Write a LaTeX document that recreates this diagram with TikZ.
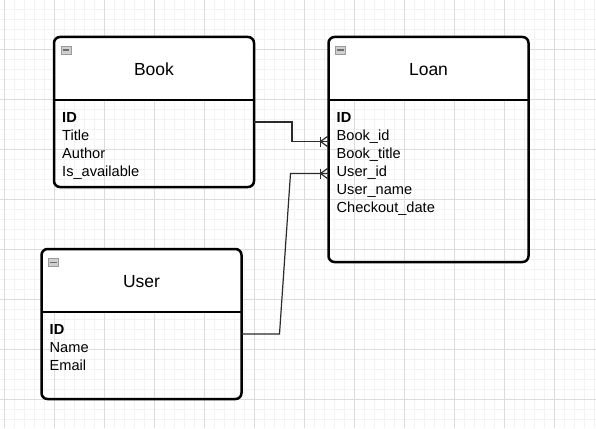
\documentclass[tikz,border=0pt]{standalone}
\usepackage{fontspec}
\setmainfont{Liberation Sans}
\usetikzlibrary{calc}
\definecolor{gridminor}{HTML}{F3F3F3}
\definecolor{gridmajor}{HTML}{DCDCDC}
\definecolor{iconfill}{HTML}{CFCFCF}
\definecolor{iconedge}{HTML}{9A9A9A}
\definecolor{iconbar}{HTML}{6E6E6E}
\definecolor{linkcol}{HTML}{2B2B2B}
\begin{document}
\begin{tikzpicture}[x=1pt,y=-1pt,
  entity/.style={draw=black, line width=2.5pt, rounded corners=6pt, inner sep=0pt, outer sep=0pt,
    minimum width=200pt,
    path picture={\fill[white] (path picture bounding box.north west) rectangle ([yshift=-63pt]path picture bounding box.north east);}},
  divider/.style={draw=black, line width=2.4pt},
  title/.style={font=\fontsize{17.5}{21}\selectfont, inner sep=0pt, anchor=base},
  attr/.style={font=\fontsize{14.6}{18}\selectfont, inner sep=0pt, anchor=base west},
  keyattr/.style={attr, font=\fontsize{14.6}{18}\selectfont\bfseries},
  icon/.style={draw=iconedge, fill=iconfill, line width=0.7pt, minimum width=10pt, minimum height=8pt, inner sep=0pt, outer sep=0pt},
  iconline/.style={draw=iconbar, line width=1.4pt},
  rel/.style={draw=linkcol, line width=1.2pt},
  crow/.style={draw=linkcol, line width=1.2pt}
]
% background and grid
\fill[white] (0,0) rectangle (596,428);
\useasboundingbox (0,0) rectangle (596,428);
\foreach \x in {4,14,...,594} \draw[gridminor, line width=0.8pt] (\x,0) -- (\x,428);
\foreach \y in {9,19,...,419} \draw[gridminor, line width=0.8pt] (0,\y) -- (596,\y);
\foreach \x in {4,54,...,554} \draw[gridmajor, line width=0.8pt] (\x,0) -- (\x,428);
\foreach \y in {49,99,...,399} \draw[gridmajor, line width=0.8pt] (0,\y) -- (596,\y);

% ---------- Book ----------
\node[entity, minimum height=150pt] (book) at (154,112) {};
\draw[divider] ([yshift=-63pt]book.north west) -- ([yshift=-63pt]book.north east);
\node[icon] (bookicon) at ([xshift=12pt,yshift=-13pt]book.north west) {};
\draw[iconline] ([xshift=1.8pt]bookicon.west) -- ([xshift=-1.8pt]bookicon.east);
\node[title] (bookname) at ([yshift=-38pt]book.north) {Book};
\node[keyattr] (bookid) at ([xshift=8pt,yshift=-85.7pt]book.north west) {ID};
\node[attr] (booktitle) at ([yshift=-18pt]bookid.base west) {Title};
\node[attr] (bookauthor) at ([yshift=-18pt]booktitle.base west) {Author};
\node[attr] (bookavail) at ([yshift=-18pt]bookauthor.base west) {Is\_available};

% ---------- Loan ----------
\node[entity, minimum height=225pt] (loan) at (428.5,149.5) {};
\draw[divider] ([yshift=-63pt]loan.north west) -- ([yshift=-63pt]loan.north east);
\node[icon] (loanicon) at ([xshift=12pt,yshift=-13pt]loan.north west) {};
\draw[iconline] ([xshift=1.8pt]loanicon.west) -- ([xshift=-1.8pt]loanicon.east);
\node[title] (loanname) at ([yshift=-38pt]loan.north) {Loan};
\node[keyattr] (loanid) at ([xshift=8pt,yshift=-85.7pt]loan.north west) {ID};
\node[attr] (loanbookid) at ([yshift=-18pt]loanid.base west) {Book\_id};
\node[attr] (loanbooktitle) at ([yshift=-18pt]loanbookid.base west) {Book\_title};
\node[attr] (loanuserid) at ([yshift=-18pt]loanbooktitle.base west) {User\_id};
\node[attr] (loanusername) at ([yshift=-18pt]loanuserid.base west) {User\_name};
\node[attr] (loandate) at ([yshift=-18pt]loanusername.base west) {Checkout\_date};

% ---------- User ----------
\node[entity, minimum height=150pt] (user) at (141.5,324) {};
\draw[divider] ([yshift=-63pt]user.north west) -- ([yshift=-63pt]user.north east);
\node[icon] (usericon) at ([xshift=12pt,yshift=-13.5pt]user.north west) {};
\draw[iconline] ([xshift=1.8pt]usericon.west) -- ([xshift=-1.8pt]usericon.east);
\node[title] (username) at ([yshift=-38pt]user.north) {User};
\node[keyattr] (userid) at ([xshift=8pt,yshift=-85.7pt]user.north west) {ID};
\node[attr] (username2) at ([yshift=-18pt]userid.base west) {Name};
\node[attr] (useremail) at ([yshift=-18pt]username2.base west) {Email};

% ---------- Connectors ----------
\coordinate (loanA) at ([yshift=8pt]loan.west);
\coordinate (loanB) at ([yshift=-24pt]loan.west);
\draw[rel] ([yshift=-10pt]book.east) -- ++(38,0) |- (loanA);
\draw[rel] ([yshift=-10pt]user.east) -- ++(38,0) -- ([xshift=-38pt]loanB) -- (loanB);
% crow's feet (one-to-many)
\draw[crow] ([xshift=-8pt,yshift=5pt]loanA) -- ([xshift=-8pt,yshift=-5pt]loanA);
\draw[crow] ([xshift=-1pt,yshift=5pt]loanA) -- ([xshift=-8pt]loanA) -- ([xshift=-1pt,yshift=-5pt]loanA);
\draw[crow] ([xshift=-8pt,yshift=5pt]loanB) -- ([xshift=-8pt,yshift=-5pt]loanB);
\draw[crow] ([xshift=-1pt,yshift=5pt]loanB) -- ([xshift=-8pt]loanB) -- ([xshift=-1pt,yshift=-5pt]loanB);
\end{tikzpicture}
\end{document}
